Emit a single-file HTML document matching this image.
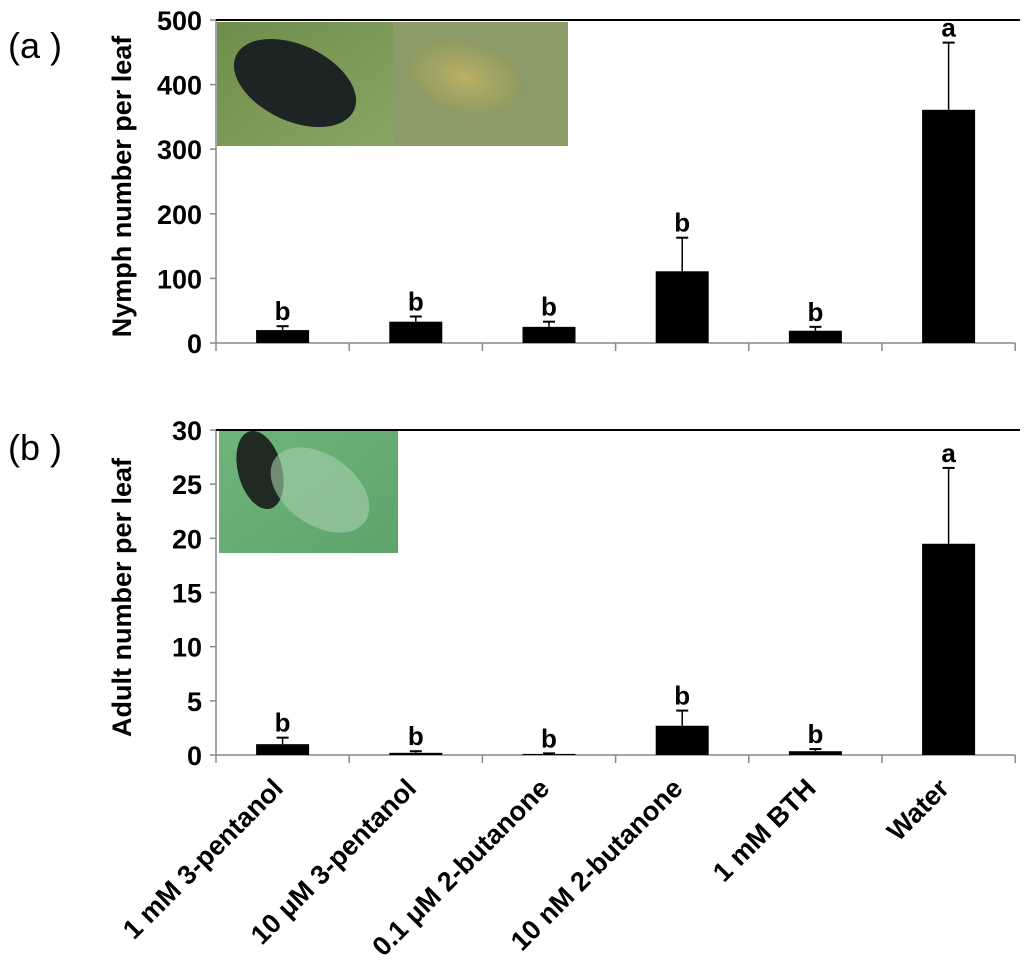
<!DOCTYPE html>
<html><head><meta charset="utf-8"><style>
body{margin:0;background:#fff}
svg{display:block;font-family:"Liberation Sans",Arial,sans-serif}
</style></head><body>
<svg id="chart" width="1024" height="980" viewBox="0 0 1024 980">
<defs>
<linearGradient id="g1" x1="0" y1="0" x2="1" y2="1"><stop offset="0" stop-color="#6f8d4a"/><stop offset="1" stop-color="#8aa566"/></linearGradient>
<radialGradient id="g2" cx="0.5" cy="0.5" r="0.5"><stop offset="0" stop-color="#b9b064"/><stop offset="1" stop-color="#8f9a63"/></radialGradient>
<linearGradient id="g3" x1="0" y1="0" x2="1" y2="1"><stop offset="0" stop-color="#6fb57a"/><stop offset="1" stop-color="#5fa36d"/></linearGradient>
</defs>
<g id="photos">
<rect x="217" y="22" width="176" height="124" fill="url(#g1)"/>
<ellipse cx="295" cy="83" rx="65" ry="38" fill="#1d2424" transform="rotate(25 295 83)"/>
<rect x="393" y="22" width="175" height="124" fill="#8c9c68"/>
<ellipse cx="465" cy="78" rx="58" ry="36" fill="url(#g2)" transform="rotate(15 465 78)"/>
<rect x="219" y="430" width="179" height="123" fill="url(#g3)"/>
<ellipse cx="260" cy="470" rx="22" ry="40" fill="#1f2a22" transform="rotate(-15 260 470)"/>
<ellipse cx="320" cy="490" rx="55" ry="35" fill="#a6cfae" opacity="0.6" transform="rotate(35 320 490)"/>
</g>
<text x="8" y="58" font-size="36">(a )</text>
<text x="8" y="460" font-size="36">(b )</text>
</svg>
<script>
const categories=["1 mM 3-pentanol","10 μM 3-pentanol","0.1 μM 2-butanone","10 nM 2-butanone","1 mM BTH","Water"];
const nymphValues=[20,33,25,111,19,361];
const nymphErr=[6,8,8,52,6,104];
const nymphLetters=["b","b","b","b","b","a"];
const nymphTicks=[0,100,200,300,400,500];
const adultValues=[1.0,0.2,0.1,2.7,0.35,19.5];
const adultErr=[0.6,0.15,0.05,1.4,0.2,7.0];
const adultLetters=["b","b","b","b","b","a"];
const adultTicks=[0,5,10,15,20,25,30];
const NS="http://www.w3.org/2000/svg";
const svg=document.getElementById('chart');
function mk(t,a,p){const e=document.createElementNS(NS,t);for(const k in a)e.setAttribute(k,a[k]);(p||svg).appendChild(e);return e;}
const x0=216,step=133.2,bw=53;
function xc(i){return x0+step*(i+0.5);}
function panel(top,bottom,max,vals,errs,letters,ticks,title,key){
  const y=v=>bottom-(v/max)*(bottom-top);
  const ax=mk('line',{x1:x0,y1:top,x2:x0,y2:bottom,stroke:'#888','stroke-width':1.5});
  
  
  const xa=mk('line',{x1:x0,y1:bottom,x2:x0+step*6,y2:bottom,stroke:'#888','stroke-width':1.5});
  
  
  const tl=mk('line',{x1:x0,y1:top,x2:1020,y2:top,stroke:'#000','stroke-width':2});
  
  
  ticks.forEach(t=>{
    mk('line',{x1:x0-6,y1:y(t),x2:x0,y2:y(t),stroke:'#888','stroke-width':1.5});
    const tx=mk('text',{x:x0-14,y:y(t)+10,'text-anchor':'end','font-size':27,'font-weight':'bold'});
    tx.textContent=t;
    
    
  });
  for(let i=0;i<=6;i++) mk('line',{x1:x0+step*i,y1:bottom,x2:x0+step*i,y2:bottom+8,stroke:'#888','stroke-width':1.5});
  const tt=mk('text',{x:0,y:0,'text-anchor':'middle','font-size':27,'font-weight':'bold',transform:`translate(131,${(top+bottom)/2+5}) rotate(-90)`});
  tt.textContent=title;
  
  
  vals.forEach((v,i)=>{
    const c=xc(i), ye=y(v+errs[i]);
    mk('line',{x1:c,y1:y(v),x2:c,y2:ye,stroke:'#000','stroke-width':1.5});
    mk('line',{x1:c-6,y1:ye,x2:c+6,y2:ye,stroke:'#000','stroke-width':2});
    const b=mk('rect',{x:c-bw/2,y:y(v),width:bw,height:bottom-y(v),fill:'#000'});
    
    
    const l=mk('text',{x:c,y:ye-6,'text-anchor':'middle','font-size':26,'font-weight':'bold'});
    l.textContent=letters[i];
    
    
  });
}
panel(20,343,500,nymphValues,nymphErr,nymphLetters,nymphTicks,"Nymph number per leaf","nymph");
panel(430,755,30,adultValues,adultErr,adultLetters,adultTicks,"Adult number per leaf","adult");
categories.forEach((c,i)=>{
  const t=mk('text',{x:0,y:0,'text-anchor':'end','font-size':27,'font-weight':'bold',transform:`translate(${xc(i)+2},${790}) rotate(-45)`});
  t.textContent=c;
  
  
});
</script>
</body></html>
